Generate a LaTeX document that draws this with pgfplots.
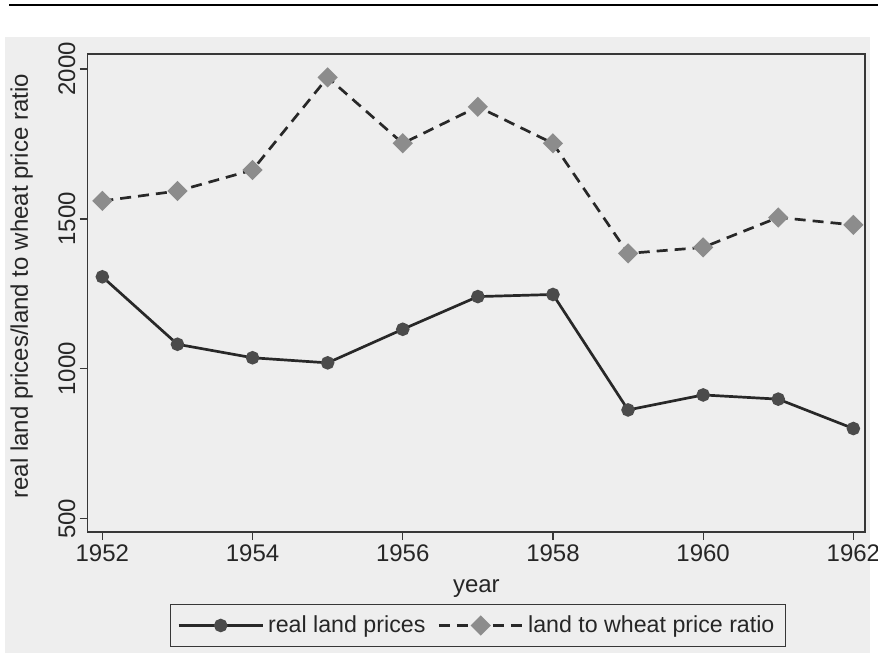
\documentclass[border=0pt]{standalone}
\usepackage{fontspec}
\setmainfont{Liberation Sans}
\usepackage{pgfplots}
\pgfplotsset{compat=1.18}
\definecolor{bgtex}{RGB}{238,238,238}
\definecolor{lineC}{RGB}{40,40,40}
\definecolor{circC}{RGB}{75,75,75}
\definecolor{diaC}{RGB}{140,140,140}
\definecolor{axC}{RGB}{55,55,55}
\begin{document}
\begin{tikzpicture}
\path[use as bounding box] (0,0) rectangle (439pt,336pt);
\fill[bgtex] (2.5pt,9.5pt) rectangle (435pt,317.5pt);
\draw[black,line width=1pt] (4.5pt,333.5pt) -- (439pt,333.5pt);
\begin{axis}[
  at={(43.85pt,70pt)}, anchor=south west,
  scale only axis, width=388.65pt, height=239pt,
  xmin=1951.805, xmax=1962.155, ymin=456, ymax=2050,
  xtick={1952,1954,...,1962}, ytick={500,1000,1500,2000},
  /pgf/number format/1000 sep={},
  /pgf/number format/assume math mode=true,
  tick align=outside, major tick length=4pt,
  tick style={axC, line width=0.6pt},
  axis line style={axC, line width=0.7pt},
  xtick pos=bottom, ytick pos=left,
  tick label style={font=\fontsize{12}{14}\selectfont, text=black!85},
  yticklabel style={rotate=90, anchor=south, inner sep=2pt},
  xticklabel style={inner sep=2pt},
  xlabel={year}, ylabel={real land prices/land to wheat price ratio},
  label style={font=\fontsize{12}{14}\selectfont, text=black!85},
  xlabel style={at={(0.5,-0.118)}, anchor=center},
  ylabel style={at={(-0.0848,0.514)}, anchor=center},
  legend style={at={(0.502,-0.1506)}, anchor=north, legend columns=-1,
    font=\fontsize{11.6}{14}\selectfont, text=black!85, draw=axC, line width=0.6pt,
    fill=none, inner sep=3.5pt,
    /tikz/every even column/.append style={column sep=4pt}},
  legend image code/.code={\draw[mark repeat=2,mark phase=2] plot coordinates {(0pt,0pt) (21pt,0pt) (42pt,0pt)};},
]
\addplot[lineC, line width=1.35pt, mark=*, mark size=2.7pt, mark options={solid, fill=circC, draw=circC}]
coordinates {
(1952,1307) (1953,1082) (1954,1037) (1955,1020) (1956,1132) (1957,1241)
(1958,1248) (1959,863) (1960,913) (1961,899) (1962,801)
};
\addlegendentry{real land prices}
\addplot[lineC, line width=1.35pt, dash pattern=on 5.5pt off 3.5pt, mark=square*, mark size=2.9pt, mark options={solid, rotate=45, fill=diaC, draw=diaC}]
coordinates {
(1952,1560) (1953,1593) (1954,1663) (1955,1972) (1956,1752) (1957,1874)
(1958,1752) (1959,1385) (1960,1405) (1961,1505) (1962,1480)
};
\addlegendentry{land to wheat price ratio}
\end{axis}
\end{tikzpicture}
\end{document}
